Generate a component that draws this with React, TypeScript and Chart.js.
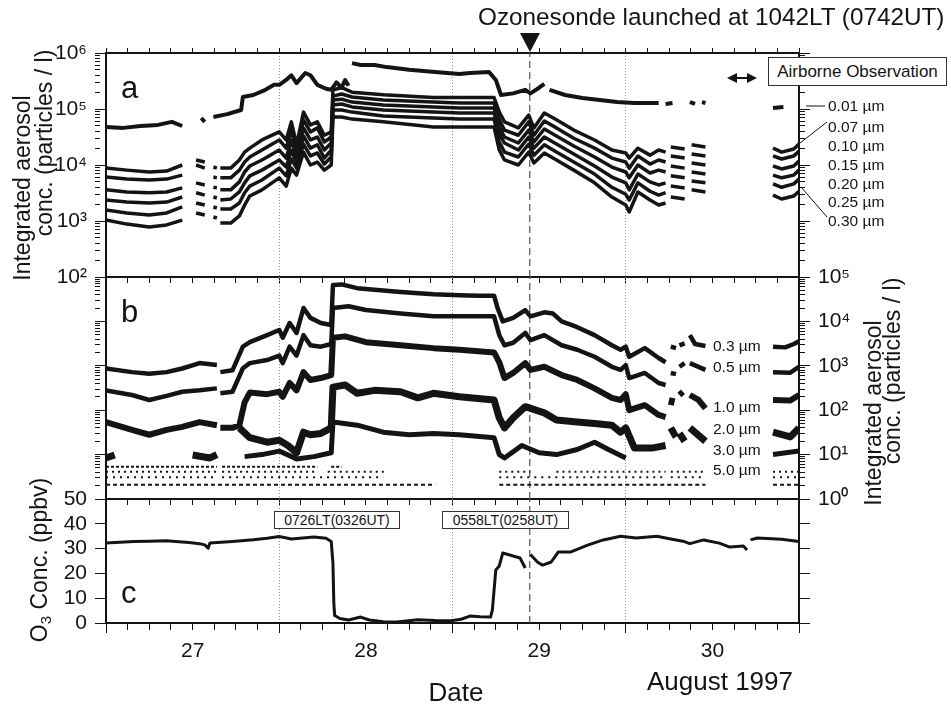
import React, { useEffect, useRef } from 'react';
import { Chart, registerables } from 'chart.js';

Chart.register(...registerables);

const FONT = '"Liberation Sans", Arial, Helvetica, sans-serif';
const INK = '#141414';

// ---------------- labels / ticks ----------------
const dayLabels = ['27', '28', '29', '30'];
const dayLabelAt = [27.5, 28.5, 29.5, 30.5];
const gridDays = [28, 29, 30];
const launchDay = 29 + (10 + 42 / 60) / 24; // 1042 LT
const o3Ticks = [0, 10, 20, 30, 40, 50];
const decadeLabels = new Map<number, string>([
  [1, '10⁰'], [10, '10¹'], [100, '10²'], [1000, '10³'],
  [10000, '10⁴'], [100000, '10⁵'], [1000000, '10⁶'],
]);
const sizeLabelsA = ['0.01 µm', '0.07 µm', '0.10 µm', '0.15 µm', '0.20 µm', '0.25 µm', '0.30 µm'];
const sizeLabelsB = ['0.3 µm', '0.5 µm', '1.0 µm', '2.0 µm', '3.0 µm', '5.0 µm'];

// ---------------- panel a : 0.01 µm ----------------
const a001: [number, number | null][] = [
  [27.00, 47700], [27.10, 46000], [27.20, 49700], [27.30, 52000], [27.38, 59000], [27.44, 49700], [27.50, null],
  [27.55, 69000], [27.57, 59000], [27.60, null],
  [27.62, 72000], [27.70, 81000], [27.78, 96000], [27.79, 164000], [27.85, 178000], [27.92, 220000], [27.97, 270000],
  [28.00, 270000], [28.04, 330000], [28.07, 400000], [28.10, 290000], [28.15, 440000], [28.18, 400000], [28.22, 270000],
  [28.27, 230000], [28.30, 220000], [28.33, 300000], [28.36, 240000], [28.38, 330000], [28.40, 260000], [28.41, null],
  [28.42, 660000], [28.47, 610000], [28.55, 610000], [28.62, 560000], [28.75, 500000], [28.90, 460000], [29.04, 420000],
  [29.10, 440000], [29.21, 460000], [29.25, 330000], [29.28, 178000], [29.35, 190000], [29.42, 220000], [29.45, 190000],
  [29.50, 240000], [29.53, 280000], [29.545, null],
  [29.56, 220000], [29.65, 178000], [29.75, 157000], [29.85, 145000], [29.95, 133000], [30.05, 128000], [30.19, 128000], [30.21, null],
  [30.23, 123000], [30.27, 128000], [30.33, null],
  [30.37, 133000], [30.40, 123000], [30.42, null],
  [30.44, 133000], [30.46, 128000], [30.60, null],
  [30.85, 104000], [30.91, 109000],
];

// ---------------- panel a : 0.07 - 0.30 µm (shared sample days) ----------------
const aDays = [
  27.00, 27.12, 27.25, 27.35, 27.44, 27.47, 27.52, 27.57, 27.60, 27.62, 27.64, 27.65, 27.66, 27.72, 27.77, 27.80,
  27.83, 27.90, 28.00, 28.04, 28.07, 28.10, 28.14, 28.18, 28.22, 28.26, 28.30, 28.31, 28.36, 28.42, 28.60, 28.89,
  29.04, 29.24, 29.27, 29.30, 29.38, 29.44, 29.47, 29.53, 29.60, 29.70, 29.82, 29.92, 30.00, 30.02, 30.07, 30.14,
  30.19, 30.23, 30.245, 30.26, 30.34, 30.36, 30.38, 30.46, 30.60, 30.85, 30.90, 30.97, 31.00,
];
const a007 = [
  8800, 8100, 7500, 7800, 10000, null, 12300, 11300, null, 9200, 8800, null, 8800, 8800, 12300, 17000,
  20000, 28000, 39000, 28000, 59000, 23000, 88000, 52000, 59000, 34000, 39000, 220000, 240000, 200000, 180000, 160000,
  160000, 160000, 88000, 59000, 46000, 78000, 46000, 85000, 64000, 42000, 28000, 18500, 16400, 13300, 20000, 15000,
  18500, 17000, null, 21000, 19300, null, 23000, 21000, null, 20000, 17000, 19300, 23700,
];
const a010 = [
  6100, 5600, 5400, 5600, 6600, null, 10000, 8800, null, 6100, 5900, null, 5900, 5900, 8100, 11300,
  13900, 18500, 28000, 20000, 42000, 18500, 64000, 39000, 46000, 25800, 31600, 170000, 185000, 164000, 145000, 133000,
  128000, 128000, 64000, 42000, 34000, 59000, 34000, 61000, 46000, 30000, 20000, 13300, 11300, 8800, 14500, 10400,
  12300, 11300, null, 14500, 13300, null, 15700, 14500, null, 14500, 12800, 14500, 17800,
];
const a015 = [
  3600, 3300, 3200, 3300, 3900, null, 4800, 4400, null, 4000, 3900, null, 3600, 3600, 5000, 7500,
  9600, 12300, 18500, 13300, 28000, 13900, 46000, 28000, 31600, 18500, 24700, 145000, 150000, 133000, 118000, 109000,
  104000, 104000, 47700, 31600, 24700, 42000, 25800, 43900, 33000, 21800, 13900, 9200, 7500, 5900, 10000, 7200,
  8100, 7500, null, 9600, 8800, null, 10900, 10000, null, 9600, 8500, 9600, 11800,
];
const a020 = [
  2370, 2180, 2100, 2180, 2680, null, 3200, 2900, null, 2680, 2580, null, 2370, 2470, 3300, 4800,
  6400, 8100, 12300, 9200, 18500, 10900, 33000, 20000, 23000, 13300, 18500, 118000, 123000, 109000, 96000, 88000,
  85000, 85000, 35800, 24700, 18500, 31600, 20000, 31600, 23700, 15700, 9600, 6100, 4800, 3600, 6900, 5000,
  4400, 4800, null, 6400, 5900, null, 7500, 6900, null, 6600, 5900, 6600, 8100,
];
const a025 = [
  1570, 1390, 1280, 1390, 1780, null, 2100, 1930, null, 1780, 1710, null, 1640, 1640, 2100, 3200,
  4200, 5400, 8800, 6400, 12800, 8800, 23700, 14500, 16400, 10400, 13900, 96000, 96000, 88000, 75000, 69000,
  66000, 66000, 25800, 17000, 13900, 23700, 15000, 23000, 17000, 11300, 6900, 4000, 3000, 2370, 4800, 3400,
  2900, 3200, null, 4200, 3900, null, 5200, 4800, null, 4600, 4000, 4600, 5600,
];
const a030 = [
  1040, 880, 780, 850, 1040, null, 1390, 1280, null, 1180, 1130, null, 920, 920, 1230, 1930,
  2800, 3600, 5900, 4200, 8800, 6600, 17000, 10000, 11300, 8100, 10000, 72000, 72000, 66000, 59000, 47700,
  47700, 47700, 18500, 12300, 10000, 17000, 10900, 16400, 12300, 8100, 4800, 2680, 1930, 1450, 3300, 2370,
  1930, 2100, null, 2680, 2470, null, 3600, 3300, null, 2900, 2470, 2800, 3400,
];

// ---------------- panel b ----------------
const b03: [number, number | null][] = [
  [27.00, 870], [27.15, 720], [27.25, 660], [27.35, 720], [27.44, 870], [27.54, 1150], [27.64, 1040], [27.65, null],
  [27.66, 720], [27.73, 790], [27.79, 2700], [27.83, 3400], [27.93, 4900], [28.00, 6400], [28.02, 4300], [28.06, 9200],
  [28.10, 5500], [28.14, 20000], [28.18, 12000], [28.24, 9200], [28.30, 8300], [28.31, 66000], [28.36, 68000],
  [28.45, 56000], [28.70, 46000], [28.89, 41000], [29.04, 39000], [29.15, 38000], [29.24, 38000], [29.26, 20000],
  [29.29, 10000], [29.35, 12000], [29.42, 18000], [29.45, 13000], [29.53, 16000], [29.58, 15000], [29.63, 10000],
  [29.72, 7400], [29.82, 4900], [29.92, 2900], [29.97, 2300], [30.00, 2700], [30.02, 1600], [30.11, 2500],
  [30.19, 1500], [30.23, 1200], [30.245, null], [30.26, 2700], [30.29, 2500], [30.30, null], [30.31, 2900],
  [30.34, 3200], [30.355, null], [30.37, 4900], [30.40, 3100], [30.46, 2800], [30.60, null], [30.85, 2700],
  [30.92, 2600], [30.97, 3100], [31.00, 3600],
];
const b05: [number, number | null][] = [
  [27.00, 280], [27.15, 220], [27.25, 170], [27.35, 210], [27.44, 260], [27.54, 280], [27.64, 310], [27.65, null],
  [27.66, 240], [27.73, 260], [27.79, 880], [27.83, 1150], [27.93, 1350], [28.00, 1700], [28.02, 1150], [28.06, 2700],
  [28.10, 1700], [28.14, 4900], [28.18, 2900], [28.24, 2700], [28.30, 3100], [28.31, 20000], [28.40, 22000],
  [28.50, 18000], [28.70, 15000], [28.89, 13000], [29.04, 13000], [29.24, 13000], [29.27, 4900], [29.30, 2900],
  [29.35, 3300], [29.42, 5500], [29.45, 3800], [29.53, 4900], [29.63, 2900], [29.72, 2300], [29.82, 1600],
  [29.92, 950], [29.97, 810], [30.00, 1040], [30.02, 530], [30.11, 690], [30.19, 410], [30.23, 370], [30.245, null],
  [30.26, 690], [30.29, 650], [30.30, null], [30.31, 950], [30.34, 1150], [30.355, null], [30.37, 1150],
  [30.46, 810], [30.60, null], [30.85, 720], [30.95, 700], [31.00, 950],
];
const b10: [number, number | null][] = [
  [27.00, 54], [27.15, 36], [27.25, 28], [27.35, 36], [27.44, 42], [27.54, 54], [27.64, 46], [27.65, null],
  [27.66, 40], [27.73, 40], [27.77, 46], [27.80, 150], [27.83, 250], [27.93, 230], [28.00, 260], [28.02, 200],
  [28.06, 410], [28.10, 280], [28.14, 720], [28.18, 480], [28.24, 530], [28.30, 620], [28.31, 4300], [28.38, 4600],
  [28.50, 3400], [28.70, 2900], [28.89, 2500], [29.04, 2300], [29.24, 2000], [29.27, 1200], [29.30, 530],
  [29.35, 690], [29.42, 1150], [29.45, 810], [29.53, 950], [29.63, 620], [29.72, 480], [29.82, 310], [29.92, 190],
  [29.97, 170], [30.00, 230], [30.02, 100], [30.11, 130], [30.19, 78], [30.23, 70], [30.245, null], [30.26, 130],
  [30.27, 190], [30.30, null], [30.31, 220], [30.33, 260], [30.355, null], [30.37, 220], [30.42, 170], [30.46, 110],
  [30.60, null], [30.85, 170], [30.95, 165], [31.00, 220],
];
const b20: [number, number | null][] = [
  [27.00, 8.4], [27.05, 9.8], [27.06, null], [27.50, 9.8], [27.60, 8.4], [27.64, 10], [27.65, null],
  [27.77, 40], [27.83, 24], [27.93, 19], [28.00, 21], [28.05, 16], [28.10, 11], [28.14, 32], [28.18, 28],
  [28.24, 30], [28.30, 40], [28.31, 330], [28.38, 370], [28.45, 240], [28.55, 280], [28.70, 260], [28.80, 190],
  [28.89, 240], [29.04, 200], [29.24, 170], [29.27, 67], [29.30, 40], [29.35, 67], [29.42, 120], [29.53, 87],
  [29.60, 60], [29.72, 54], [29.82, 50], [29.92, 46], [29.97, 32], [30.00, 40], [30.05, 14], [30.15, 14],
  [30.23, 16], [30.245, null], [30.26, 40], [30.29, 25], [30.30, null], [30.31, 30], [30.34, 20], [30.355, null],
  [30.37, 40], [30.46, 20], [30.60, null], [30.85, 32], [30.95, 25], [31.00, 40],
];
const b30: [number, number | null][] = [
  [27.80, 9], [27.90, 10], [28.00, 12], [28.10, 8], [28.20, 9], [28.30, 11], [28.31, 54], [28.45, 46],
  [28.60, 32], [28.75, 28], [28.89, 30], [29.04, 28], [29.24, 24], [29.27, 10], [29.30, 8.4], [29.40, 16],
  [29.50, 11], [29.60, 10], [29.72, 13], [29.82, 19], [29.90, 13], [30.00, 8.4], [30.01, null],
  [30.85, 10], [31.00, 12],
];
// low-count rows (3.0 / 5.0 µm): count level and the day spans where they appear
const rowLevels = [5.3, 4.1, 3.1, 2.1];
const rowSpans: [number, number][][] = [
  [[27.00, 27.64], [27.67, 28.22], [28.30, 28.36]],
  [[27.00, 27.64], [27.67, 28.22], [28.28, 28.62], [29.27, 29.45], [29.60, 30.23], [30.26, 30.46], [30.85, 31.00]],
  [[27.00, 27.64], [27.67, 28.60], [29.27, 30.23], [30.26, 30.46], [30.85, 31.00]],
  [[27.00, 28.90], [29.27, 30.46], [30.85, 31.00]],
];

// ---------------- panel c : O3 (ppbv) ----------------
const o3: [number, number | null][] = [
  [27.00, 32.3], [27.08, 32.6], [27.16, 32.9], [27.25, 33.0], [27.35, 33.2], [27.42, 32.8], [27.48, 32.5],
  [27.54, 32.0], [27.57, 31.5], [27.59, 30.2], [27.60, 32.3], [27.73, 32.9], [27.85, 33.6], [27.93, 34.2],
  [28.00, 34.9], [28.07, 33.9], [28.20, 34.7], [28.27, 34.2], [28.30, 32.9], [28.31, 24.0], [28.315, 8.0],
  [28.32, 3.0], [28.35, 1.8], [28.40, 1.2], [28.47, 2.4], [28.52, 1.2], [28.60, 0.5], [28.68, 0.4], [28.80, 1.3],
  [28.90, 1.0], [28.99, 0.9], [29.05, 1.5], [29.10, 2.8], [29.16, 2.5], [29.22, 2.4], [29.23, 5.2], [29.25, 21.4],
  [29.27, 23.0], [29.29, 28.2], [29.35, 27.0], [29.39, 26.2], [29.42, 22.2], [29.435, null], [29.45, 27.6],
  [29.49, 24.6], [29.52, 23.3], [29.57, 24.6], [29.61, 28.6], [29.68, 28.6], [29.78, 31.4], [29.87, 33.5],
  [29.97, 35.0], [30.06, 34.3], [30.18, 35.0], [30.26, 33.9], [30.33, 33.0], [30.37, 32.0], [30.45, 33.5],
  [30.54, 32.2], [30.60, 30.6], [30.68, 31.0], [30.70, 29.4], [30.71, null], [30.72, 33.5], [30.76, 34.3],
  [30.90, 33.8], [31.00, 32.9],
];

// ---------------- helpers ----------------
const xTickValues: number[] = [];
for (let i = 0; i <= 32; i++) xTickValues.push(27 + i * 0.125);

function logTickValues(lo: number, hi: number) {
  const out: number[] = [];
  for (let d = lo; d < hi; d *= 10) for (let k = 1; k <= 9; k++) out.push(k * d);
  out.push(hi);
  return out;
}

const pairs = (arr: [number, number | null][]) => arr.map(([x, y]) => ({ x, y }));
const shared = (vals: (number | null)[]) => aDays.map((d, i) => ({ x: d, y: vals[i] }));
const rowPoints = (level: number, spans: [number, number][]) => {
  const pts: { x: number; y: number | null }[] = [];
  spans.forEach(([s, e]) => { pts.push({ x: s, y: level }, { x: e, y: level }, { x: e + 0.001, y: null }); });
  return pts;
};

const line = (data: any[], width: number, extra: any = {}) => ({
  data, borderColor: INK, backgroundColor: INK, borderWidth: width, pointRadius: 0,
  fill: false, spanGaps: false, tension: 0, xAxisID: 'x', yAxisID: 'y',
  borderJoinStyle: 'round', borderCapStyle: 'butt', ...extra,
});
const launchLine = (lo: number, hi: number) => line(
  [{ x: launchDay, y: lo }, { x: launchDay, y: hi }], 1.2,
  { borderColor: '#555', borderDash: [7, 4] },
);

const isWholeDay = (v: number) => Math.abs(v - Math.round(v)) < 1e-9;

function xAxis(position: string, height: number, opts: { grid?: boolean; labels?: boolean; tickLength: number; minor: number }) {
  return {
    type: 'linear', position, min: 27, max: 31,
    afterBuildTicks: (ax: any) => { ax.ticks = xTickValues.map((v) => ({ value: v })); },
    afterFit: (ax: any) => { ax.height = height; },
    ticks: {
      display: !!opts.labels, autoSkip: false, maxRotation: 0, minRotation: 0, padding: 6,
      color: INK, font: { family: FONT, size: 21 },
      callback: (v: number) => { const i = dayLabelAt.indexOf(v); return i >= 0 ? dayLabels[i] : ''; },
    },
    grid: {
      drawOnChartArea: !!opts.grid,
      color: (c: any) => (c.tick && gridDays.includes(c.tick.value) ? '#8c8c8c' : 'rgba(0,0,0,0)'),
      lineWidth: 1,
      drawTicks: true, tickLength: opts.tickLength, tickWidth: 1, tickColor: INK,
      tickBorderDash: (c: any) => (c.tick && isWholeDay(c.tick.value) ? [] : [opts.minor, 60]),
    },
    border: { display: true, color: INK, width: 2, dash: [1, 2] },
  };
}

function logAxis(position: string, lo: number, hi: number, labels: boolean, width: number) {
  return {
    type: 'logarithmic', position, min: lo, max: hi,
    afterBuildTicks: (ax: any) => { ax.ticks = logTickValues(lo, hi).map((v) => ({ value: v })); },
    afterFit: (ax: any) => { ax.width = width; },
    ticks: {
      display: labels, autoSkip: false, padding: 8, color: INK, font: { family: FONT, size: 21 },
      callback: (v: number) => decadeLabels.get(v) || '',
    },
    grid: {
      drawOnChartArea: false, drawTicks: true, tickLength: 11, tickWidth: 1, tickColor: INK,
      tickBorderDash: (c: any) => (c.tick && decadeLabels.has(c.tick.value) ? [] : [5, 60]),
    },
    border: { display: true, color: INK, width: 2 },
  };
}

function linAxis(position: string, labels: boolean, width: number) {
  return {
    type: 'linear', position, min: 0, max: 50,
    afterBuildTicks: (ax: any) => { ax.ticks = o3Ticks.map((v) => ({ value: v })); },
    afterFit: (ax: any) => { ax.width = width; },
    ticks: { display: labels, autoSkip: false, padding: 8, color: INK, font: { family: FONT, size: 21 } },
    grid: { drawOnChartArea: false, drawTicks: true, tickLength: 11, tickWidth: 1, tickColor: INK },
    border: { display: true, color: INK, width: 2 },
  };
}

function baseOptions(padTop: number, scales: any) {
  return {
    responsive: false, animation: false, events: [],
    layout: { padding: { left: 0, right: 0, top: padTop, bottom: 0 } },
    plugins: { legend: { display: false }, tooltip: { enabled: false }, title: { display: false } },
    scales,
  };
}

const configA = () => ({
  type: 'line',
  data: {
    datasets: [
      line(pairs(a001), 4),
      ...[a007, a010, a015, a020, a025, a030].map((v) => line(shared(v), 3.5)),
      launchLine(100, 1e6),
    ],
  },
  options: baseOptions(0, {
    x: xAxis('bottom', 23, { grid: true, tickLength: 6, minor: 6 }),
    xt: xAxis('top', 53, { tickLength: 5, minor: 5 }),
    y: logAxis('left', 100, 1e6, true, 106),
    yr: logAxis('right', 100, 1e6, false, 152),
  }),
});

const rowDash = [[3, 2], [2, 4], [2, 5], [4, 3]];
const configB = () => ({
  type: 'line',
  data: {
    datasets: [
      line(pairs(b03), 4.5),
      line(pairs(b05), 4.5),
      line(pairs(b10), 6),
      line(pairs(b20), 7),
      line(pairs(b30), 5),
      ...rowLevels.map((lv, i) => line(rowPoints(lv, rowSpans[i]), 2, { borderDash: rowDash[i] })),
      launchLine(1, 1e5),
    ],
  },
  options: baseOptions(24, {
    x: xAxis('bottom', 26, { grid: true, tickLength: 6, minor: 6 }),
    y: logAxis('left', 1, 1e5, false, 106),
    yr: logAxis('right', 1, 1e5, true, 152),
  }),
});

const configC = () => ({
  type: 'line',
  data: {
    datasets: [
      line(pairs(o3), 3),
      launchLine(0, 50),
    ],
  },
  options: baseOptions(25, {
    x: xAxis('bottom', 81, { grid: true, labels: true, tickLength: 10, minor: 6 }),
    y: linAxis('left', true, 106),
    yr: linAxis('right', false, 152),
  }),
});

function ChartBox({ top, height, build }: { top: number; height: number; build: () => any }) {
  const ref = useRef<HTMLCanvasElement | null>(null);
  useEffect(() => {
    const chart = new Chart(ref.current as HTMLCanvasElement, build() as any);
    return () => chart.destroy();
  }, []);
  return (
    <canvas
      ref={ref}
      width={951}
      height={height}
      style={{ position: 'absolute', left: 0, top, width: 951, height, display: 'block' }}
    />
  );
}

function Txt({ x, y, size, align = 'center', rotate = 0, children }: any) {
  const tx = align === 'left' ? '0' : align === 'right' ? '-100%' : '-50%';
  return (
    <div
      style={{
        position: 'absolute', left: x, top: y, fontFamily: FONT, fontSize: size, lineHeight: 1,
        whiteSpace: 'nowrap', color: INK,
        transform: `translate(${tx}, -50%)` + (rotate ? ` rotate(${rotate}deg)` : ''),
      }}
    >
      {children}
    </div>
  );
}

function Box({ x, y, w, h, size, children }: any) {
  return (
    <div
      style={{
        position: 'absolute', left: x, top: y, width: w, height: h, boxSizing: 'border-box',
        border: '1px solid #333', background: '#fff', fontFamily: FONT, fontSize: size, color: INK,
        display: 'flex', alignItems: 'center', justifyContent: 'center', whiteSpace: 'nowrap', lineHeight: 1,
      }}
    >
      {children}
    </div>
  );
}

export default function App() {
  const aLabelY = [106, 127, 146, 165, 184, 202, 221];
  const bLabelY = [346, 367, 407, 429, 450, 470];
  return (
    <div style={{ position: 'absolute', left: 0, top: 0, width: 951, height: 704, overflow: 'hidden', background: '#fff' }}>
      <ChartBox top={0} height={300} build={configA} />
      <ChartBox top={253} height={272} build={configB} />
      <ChartBox top={474} height={230} build={configC} />

      <svg width={951} height={704} style={{ position: 'absolute', left: 0, top: 0, pointerEvents: 'none' }}>
        <polygon points="520,33 540,33 530,52" fill={INK} />
        <line x1={734} y1={78} x2={750} y2={78} stroke={INK} strokeWidth={2} />
        <polygon points="727,78 737,73 737,83" fill={INK} />
        <polygon points="757,78 747,73 747,83" fill={INK} />
        <line x1={806} y1={106} x2={825} y2={106} stroke={INK} strokeWidth={1} />
        <line x1={800} y1={143} x2={827} y2={122} stroke={INK} strokeWidth={1} />
        <line x1={801} y1={187} x2={827} y2={217} stroke={INK} strokeWidth={1} />
      </svg>

      <Txt x={478} y={17} size={24.3} align="left">Ozonesonde launched at 1042LT (0742UT)</Txt>
      <Box x={768} y={57} w={179} h={29} size={17}>Airborne Observation</Box>

      <Txt x={121} y={87} size={31} align="left">a</Txt>
      <Txt x={121} y={311} size={31} align="left">b</Txt>
      <Txt x={121} y={592} size={31} align="left">c</Txt>

      {sizeLabelsA.map((t, i) => (
        <Txt key={t} x={828} y={aLabelY[i]} size={15.5} align="left">{t}</Txt>
      ))}
      {sizeLabelsB.map((t, i) => (
        <Txt key={t} x={713} y={bLabelY[i]} size={15.5} align="left">{t}</Txt>
      ))}

      <Txt x={22} y={188} size={23} rotate={-90}>Integrated aerosol</Txt>
      <Txt x={44} y={143} size={23} rotate={-90}>conc. (particles / l)</Txt>
      <Txt x={873} y={413} size={23} rotate={-90}>Integrated aerosol</Txt>
      <Txt x={892} y={371} size={23} rotate={-90}>conc. (particles / l)</Txt>
      <Txt x={41} y={560} size={23} rotate={-90}>
        O<span style={{ fontSize: '0.65em', verticalAlign: '-0.3em' }}>3</span> Conc. (ppbv)
      </Txt>

      <Box x={274} y={511} w={126} h={18} size={14}>0726LT(0326UT)</Box>
      <Box x={442} y={511} w={127} h={18} size={14}>0558LT(0258UT)</Box>

      <Txt x={456} y={692} size={26}>Date</Txt>
      <Txt x={720} y={681} size={26}>August 1997</Txt>
    </div>
  );
}
